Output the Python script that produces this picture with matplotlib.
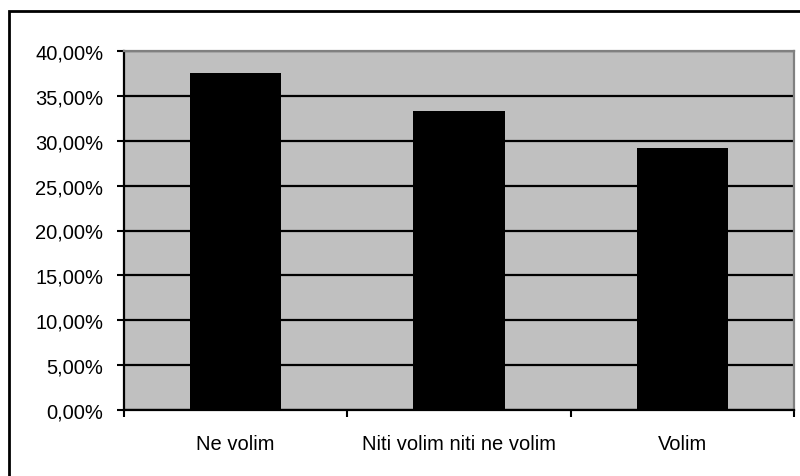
import matplotlib.pyplot as plt
from matplotlib.patches import Rectangle
from matplotlib.ticker import FuncFormatter, MultipleLocator

plt.rcParams['font.family'] = ['Liberation Sans', 'DejaVu Sans']

categories = ['Ne volim', 'Niti volim niti ne volim', 'Volim']
shares = [37.50, 33.33, 29.17]  # percent

fig = plt.figure(figsize=(8, 4.77), dpi=100)

# outer chart border (cropped on right and bottom in the original)
fig.add_artist(Rectangle((8.5 / 800, -0.1), 1.2, 1.1 - 11.5 / 477, transform=fig.transFigure,
                         fill=False, edgecolor='black', linewidth=2))

ax = fig.add_axes([124 / 800, 1 - 411 / 477, (794 - 124) / 800, (411 - 52) / 477])
ax.set_facecolor('#c0c0c0')

x = list(range(len(categories)))
ax.bar(x, shares, width=0.41, color='black', zorder=3)

ax.set_xlim(-0.5, 2.5)
ax.set_ylim(0, 40)
ax.yaxis.set_major_locator(MultipleLocator(5))
ax.yaxis.set_major_formatter(FuncFormatter(lambda v, p: f'{v:.2f}%'.replace('.', ',')))
ax.grid(axis='y', color='black', linewidth=1.6, zorder=1)

ax.set_xticks([-0.5, 0.5, 1.5, 2.5])
ax.set_xticklabels([])
ax.set_xticks(x, minor=True)
ax.set_xticklabels(categories, minor=True)
ax.tick_params(axis='x', which='minor', length=0, pad=17, labelsize=14.5)
ax.tick_params(axis='x', which='major', length=5, width=1.5, direction='out')
ax.tick_params(axis='y', length=5, width=1.5, direction='out', labelsize=14.5, pad=10)

for s in ['left', 'bottom']:
    ax.spines[s].set_color('black')
    ax.spines[s].set_linewidth(1.6)
for s in ['top', 'right']:
    ax.spines[s].set_color('#808080')
    ax.spines[s].set_linewidth(1.6)

fig.savefig('out.png', dpi=100)
